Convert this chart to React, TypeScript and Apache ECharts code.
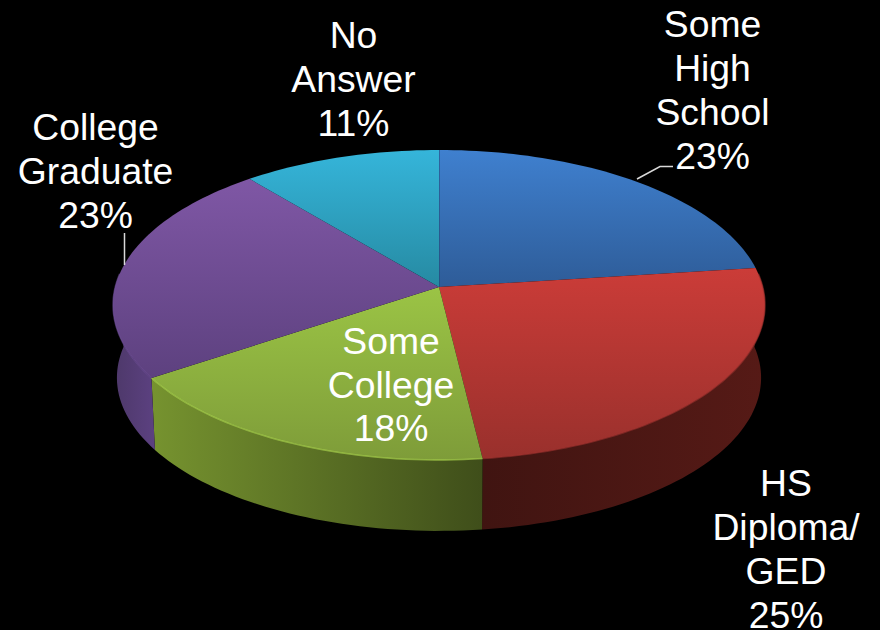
import React, { useEffect, useRef } from "react";
import * as echarts from "echarts";

const categories = ["Some\nHigh\nSchool", "HS\nDiploma/\nGED", "Some\nCollege", "College\nGraduate", "No\nAnswer"];
const values = [23, 25.1, 17.5, 23.4, 11];

const topColors = [
  ["#3f80cf", "#2e5c98"],
  ["#cb3c38", "#99302c"],
  ["#9bc445", "#7e9c39"],
  ["#7f57a5", "#5d417f"],
  ["#35b5da", "#268aa2"],
];
const wallColors = [
  ["#2e5c98", "#2e5c98"],
  ["#401411", "#561a16"],
  ["#76932f", "#3f4e1a"],
  ["#4d3869", "#5c4181"],
  ["#268aa2", "#268aa2"],
];
const rimColors = [
  "rgba(63,128,207,0.5)",
  "rgba(160,50,46,0.6)",
  "rgba(166,208,76,0.7)",
  "rgba(110,78,150,0.6)",
  "rgba(53,181,218,0.5)",
];
const labelAnchors = [
  [712.5, 90],
  [786, 549],
  [391, 384.5],
  [95.5, 171],
  [353.5, 79],
];

const CX = 439;
const CY = 287;
const RX = 323.8;
const RY = 152.9;
const K = 0.116;
const DEPTH = 73;
const LOWER = 0.988;
const WALL_FROM = 85;
const WALL_TO = 275;

const total = values.reduce((a, b) => a + b, 0);
const starts: number[] = [];
values.reduce((acc, v, i) => {
  starts[i] = acc;
  return acc + v;
}, 0);

function project(deg: number, lower = false): number[] {
  const t = (deg * Math.PI) / 180;
  const u = Math.sin(t);
  const v = -Math.cos(t);
  const d = 1 - K * v;
  const x = (RX * u) / d;
  const y = (RY * v) / d;
  return lower ? [CX + LOWER * x, CY + DEPTH + LOWER * y] : [CX + x, CY + y];
}

function arc(a: number, b: number, lower = false): number[][] {
  const n = Math.max(2, Math.ceil((b - a) / 1.5));
  const pts: number[][] = [];
  for (let i = 0; i <= n; i++) pts.push(project(a + ((b - a) * i) / n, lower));
  return pts;
}

function range(i: number, value: number): number[] {
  const a = (starts[i] / total) * 360;
  return [a, a + (value / total) * 360];
}

function vGrad(c: string[]) {
  return new echarts.graphic.LinearGradient(0, 0, 0, 1, [
    { offset: 0, color: c[0] },
    { offset: 1, color: c[1] },
  ]);
}

function hGrad(c: string[]) {
  return new echarts.graphic.LinearGradient(0, 0, 1, 0, [
    { offset: 0, color: c[0] },
    { offset: 1, color: c[1] },
  ]);
}

function renderWall(params: any, api: any) {
  const i = params.dataIndex;
  const [a0, b0] = range(i, api.value(0));
  const a = Math.max(a0, WALL_FROM);
  const b = Math.min(b0, WALL_TO);
  if (b <= a) return { type: "group", children: [] };
  const pts = [...arc(a, b), ...arc(a, b, true).reverse()];
  return {
    type: "polygon",
    shape: { points: pts },
    style: { fill: hGrad(wallColors[i]) },
    silent: true,
  };
}

function renderTop(params: any, api: any) {
  const i = params.dataIndex;
  const [a, b] = range(i, api.value(0));
  const children: any[] = [
    {
      type: "polygon",
      shape: { points: [[CX, CY], ...arc(a, b)] },
      style: { fill: vGrad(topColors[i]) },
    },
  ];
  const ra = Math.max(a, WALL_FROM);
  const rb = Math.min(b, WALL_TO);
  if (rb > ra) {
    children.push({
      type: "polyline",
      shape: { points: arc(ra, rb) },
      style: { fill: "none", stroke: rimColors[i], lineWidth: 1.5 },
    });
  }
  if (i === 0) {
    children.push({
      type: "polyline",
      shape: { points: [[CX, CY], project(0)] },
      style: { fill: "none", stroke: "rgba(30,70,110,0.65)", lineWidth: 1.5 },
    });
  }
  return { type: "group", children, silent: true };
}

function renderLabel(params: any, api: any) {
  const i = params.dataIndex;
  const [x, y] = labelAnchors[i];
  return {
    type: "text",
    x,
    y,
    silent: true,
    style: {
      text: `${categories[i]}\n${Math.round(api.value(0))}%`,
      fill: "#ffffff",
      font: '37.3px "Liberation Sans", Arial, sans-serif',
      lineHeight: 43.7,
      align: "center",
      verticalAlign: "middle",
    },
  };
}

export default function App() {
  const ref = useRef<HTMLDivElement>(null);

  useEffect(() => {
    document.body.style.margin = "0";
    document.body.style.background = "#000";
    const chart = echarts.init(ref.current!, undefined, { renderer: "svg" });
    const data = values.map((v) => [v]);
    chart.setOption({
      animation: false,
      backgroundColor: "#000000",
      graphic: [
        {
          type: "polyline",
          z: 20,
          silent: true,
          shape: { points: [[637, 179], [660, 166.5], [673, 166.5]] },
          style: { fill: "none", stroke: "#d9d9d9", lineWidth: 1.5 },
        },
        {
          type: "line",
          z: 20,
          silent: true,
          shape: { x1: 124.5, y1: 233, x2: 124.5, y2: 265 },
          style: { stroke: "#d9d9d9", lineWidth: 1.5 },
        },
      ],
      series: [
        { type: "custom", coordinateSystem: "none", z: 1, data, renderItem: renderWall },
        { type: "custom", coordinateSystem: "none", z: 2, data, renderItem: renderTop },
        { type: "custom", coordinateSystem: "none", z: 3, data, renderItem: renderLabel },
      ],
    });
    return () => chart.dispose();
  }, []);

  return <div ref={ref} style={{ position: "absolute", left: 0, top: 0, width: 880, height: 630 }} />;
}
